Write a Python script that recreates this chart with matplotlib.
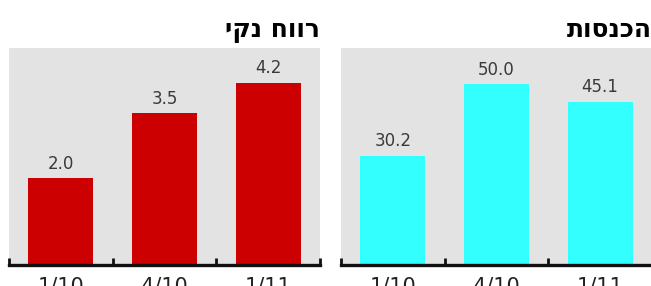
import numpy as np
import matplotlib
matplotlib.use("Agg")
import matplotlib.pyplot as plt

# data
dates = ["1/10", "4/10", "1/11"]
net_profit = [2.0, 3.5, 4.2]
revenue = [30.2, 50.0, 45.1]
titles = ["רווח נקי", "הכנסות"]

plt.rcParams['font.family'] = ['DejaVu Sans']

fig = plt.figure(figsize=(6.51, 2.86), dpi=100)
ax_profit = fig.add_axes([9 / 651, 21 / 286, 311 / 651, 217 / 286])
ax_rev = fig.add_axes([341 / 651, 21 / 286, 311 / 651, 217 / 286])


def draw_panel(ax, values, color, ymax, title):
    x = np.arange(len(values))
    ax.set_facecolor('#e3e3e3')
    ax.bar(x, values, width=0.63, color=color, zorder=2)
    for xi, v in zip(x, values):
        ax.text(xi, v + ymax * 0.025, f'{v:.1f}', ha='center', va='bottom',
                fontsize=12, color='#3a3a3a')
    ax.set_xlim(-0.5, len(values) - 0.5)
    ax.set_ylim(0, ymax)
    for s in ['top', 'left', 'right']:
        ax.spines[s].set_visible(False)
    ax.spines['bottom'].set_linewidth(2.4)
    ax.spines['bottom'].set_color('#111111')
    ax.set_yticks([])
    # tick marks sit on the category boundaries, labels under the bars
    ax.set_xticks(np.arange(len(values) + 1) - 0.5)
    ax.set_xticklabels([])
    ax.tick_params(axis='x', which='major', direction='in', length=5, width=2, color='#111111')
    ax.set_xticks(x, minor=True)
    ax.set_xticklabels(dates, minor=True, fontsize=15, color='#222222')
    ax.tick_params(axis='x', which='minor', length=0, pad=8)
    # Hebrew is right-to-left, matplotlib draws left-to-right
    ax.set_title(title[::-1], loc='right', fontsize=18, fontweight='bold', pad=8)


draw_panel(ax_profit, net_profit, '#cc0000', 5.0, titles[0])
draw_panel(ax_rev, revenue, '#33ffff', 60.0, titles[1])

fig.savefig('out.png', dpi=100)
